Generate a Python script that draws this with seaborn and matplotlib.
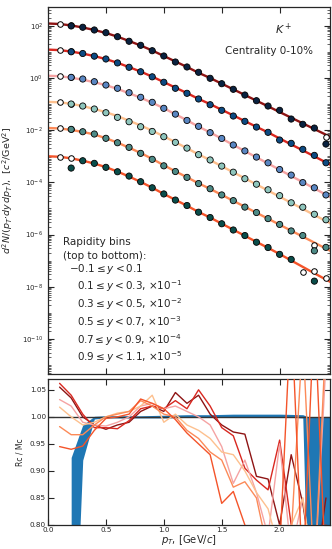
import numpy as np
import pandas as pd
import matplotlib
matplotlib.use("Agg")
import matplotlib.pyplot as plt
import seaborn as sns
from matplotlib.ticker import LogLocator, NullFormatter, FixedLocator, LogFormatterSciNotation, MultipleLocator

nan = np.nan
# ---------------- data ----------------
pt_grid = [0.0, 0.1, 0.2, 0.3, 0.4, 0.5, 0.6, 0.7, 0.8, 0.9, 1.0, 1.1, 1.2,
           1.3, 1.4, 1.5, 1.6, 1.7, 1.8, 1.9, 2.0, 2.1, 2.2, 2.3, 2.4, 2.5]
pt = [0.1, 0.2, 0.3, 0.4, 0.5, 0.6, 0.7, 0.8, 0.9, 1.0, 1.1, 1.2,
      1.3, 1.4, 1.5, 1.6, 1.7, 1.8, 1.9, 2.0, 2.1, 2.2, 2.3, 2.4]
scales = [1.0, 1e-1, 1e-2, 1e-3, 1e-4, 1e-5]
bin_labels = [r"$-0.1 \leq y < 0.1$",
              r"$0.1 \leq y < 0.3$, $\times10^{-1}$",
              r"$0.3 \leq y < 0.5$, $\times10^{-2}$",
              r"$0.5 \leq y < 0.7$, $\times10^{-3}$",
              r"$0.7 \leq y < 0.9$, $\times10^{-4}$",
              r"$0.9 \leq y < 1.1$, $\times10^{-5}$"]

# fit curves (unscaled)
fit1 = [121, 116, 102, 85.3, 68.4, 52.5, 37.9, 25.9, 17.4, 11.2, 6.90, 4.25, 2.62, 1.57, 0.991, 0.600, 0.366, 0.221, 0.134, 0.0817, 0.0493, 0.0299, 0.0182, 0.0110, 0.00667, 0.00406]
fit2 = [121, 116, 102, 85.3, 68.4, 52.5, 37.9, 25.9, 17.4, 11.2, 6.90, 4.25, 2.62, 1.57, 0.991, 0.600, 0.366, 0.221, 0.134, 0.0817, 0.0480, 0.0283, 0.0168, 0.00990, 0.00580, 0.00340]
fit3 = [121, 116, 102, 85.3, 68.4, 52.5, 37.9, 25.9, 17.4, 11.2, 6.90, 4.05, 2.38, 1.36, 0.816, 0.471, 0.273, 0.157, 0.0909, 0.0528, 0.0303, 0.0175, 0.0102, 0.00585, 0.00338, 0.00196]
fit4 = [121, 116, 102, 83.1, 64.8, 48.5, 34.4, 22.9, 15.1, 9.55, 5.78, 3.44, 2.03, 1.17, 0.715, 0.414, 0.244, 0.142, 0.0832, 0.0485, 0.0283, 0.0165, 0.00965, 0.00562, 0.00330, 0.00192]
fit5 = [121, 116, 102, 85.3, 68.4, 48.9, 33.2, 21.3, 13.3, 7.94, 4.52, 2.64, 1.57, 0.917, 0.563, 0.332, 0.197, 0.116, 0.0685, 0.0407, 0.0239, 0.0141, 0.00837, 0.00493, 0.00291, 0.00173]
fit6 = [99.6, 95.5, 83.2, 67.8, 52.5, 38.2, 25.9, 16.7, 10.4, 6.25, 3.59, 2.14, 1.27, 0.735, 0.448, 0.262, 0.154, 0.0897, 0.0525, 0.0310, 0.0180, 0.0102, 0.00580, 0.00330, 0.00190, 0.00110]

# measured points, filled markers (unscaled)
meas1 = [nan, 97.5, 86.9, 68.4, 53.9, 37.9, 25.3, 17.7, 11.0, 6.90, 4.06, 2.62, 1.64, 0.966, 0.600, 0.366, 0.221, 0.134, 0.0838, 0.0574, 0.0266, 0.0167, 0.0120, 0.00293]
meas2 = [nan, 100, 86.0, 68.0, 53.0, 37.5, 25.5, 17.2, 11.0, 6.80, 4.00, 2.57, 1.56, 0.940, 0.574, 0.347, 0.217, 0.131, 0.0824, 0.0418, 0.0312, 0.0184, 0.0108, 0.00563]
meas3 = [nan, 105, 90.7, 71.5, 53.4, 40.0, 27.1, 18.1, 11.6, 6.84, 4.10, 2.35, 1.40, 0.800, 0.480, 0.270, 0.160, 0.0930, 0.0560, 0.0310, 0.0190, 0.00980, 0.00620, 0.00330]
meas4 = [nan, 100, 83.8, 64.3, 46.4, 30.9, 21.0, 13.5, 8.90, 5.60, 3.40, 2.05, 1.15, 0.720, 0.420, 0.245, 0.138, 0.0850, 0.0520, 0.0310, 0.0165, 0.0112, 0.00600, 0.00370]
meas5 = [nan, 107, 86.9, 71.0, 48.6, 32.9, 21.9, 12.9, 7.60, 4.30, 2.60, 1.55, 0.900, 0.570, 0.330, 0.200, 0.113, 0.0700, 0.0410, 0.0245, 0.0138, 0.00920, 0.00239, 0.00324]
meas6 = [nan, 35.3, 67.3, 53.5, 37.6, 25.5, 17.4, 10.6, 6.20, 3.60, 2.10, 1.30, 0.720, 0.450, 0.260, 0.150, 0.0920, 0.0510, 0.0320, 0.0175, 0.0112, nan, 0.00165, nan]

# alternative points, open markers (unscaled)
open_pt1, open_val1 = [0.1, 0.2, 2.4], [116, 102, 0.00544]
open_pt2, open_val2 = [0.1, 0.2], [117, 103]
open_pt3, open_val3 = [0.1, 0.2], [118, 104]
open_pt4, open_val4 = [0.1, 0.2], [116, 101]
open_pt5, open_val5 = [0.1, 0.2, 2.3], [117, 108, 0.00396]
open_pt6, open_val6 = [0.1, 0.2, 2.2, 2.3, 2.4], [95.7, 83.2, 0.00366, 0.0040, 0.00215]

# ratio panel
ratio1 = [1.055, 1.035, 1.000, 0.985, 0.977, 0.985, 0.990, 1.010, 1.020, 1.010, 1.045, 1.025, 1.040, 1.005, 0.985, 0.972, 0.968, 0.890, 0.885, 0.800, 0.930, 0.840, 0.700, 0.850]
ratio2 = [1.062, 1.040, 1.005, 0.980, 0.980, 0.978, 0.993, 1.015, 1.020, 1.015, 1.030, 1.015, 1.050, 1.020, 0.980, 0.965, 0.905, 0.883, 0.865, 0.957, 0.800, 0.700, 0.750, 0.800]
ratio3 = [1.032, 1.020, 0.990, 0.985, 0.983, 0.990, 1.000, 1.020, 1.025, 1.015, 1.020, 1.010, 1.000, 0.985, 0.945, 0.877, 0.920, 0.860, 0.780, 0.950, 0.750, 0.850, 0.700, 1.100]
ratio4 = [1.018, 1.000, 0.985, 0.990, 1.000, 1.007, 1.010, 1.020, 1.040, 0.990, 1.005, 0.985, 0.975, 0.960, 0.935, 0.930, 0.900, 0.860, 0.830, 0.750, 0.800, 0.850, 0.700, 0.650]
ratio5 = [0.982, 0.967, 0.967, 0.985, 1.000, 1.005, 1.010, 1.030, 1.020, 1.005, 1.000, 0.975, 0.960, 0.935, 0.920, 0.870, 0.880, 0.850, 0.750, 0.800, 0.780, 1.150, 0.700, 1.150]
ratio6 = [0.945, 0.940, 0.946, 0.975, 0.997, 1.000, 1.005, 1.033, 1.025, 1.015, 0.995, 0.970, 0.950, 0.930, 0.840, 0.862, 0.800, 0.750, 0.700, 0.750, 1.200, 0.700, 1.200, 0.700]

band_pt = [0.2, 0.3, 0.4, 0.5, 0.6, 0.8, 1.0, 1.2, 1.4, 1.6, 1.8, 2.0, 2.2, 2.25, 2.3, 2.4, 2.45]
band_lo = [0.40, 0.92, 0.996, 0.998, 0.998, 0.998, 0.998, 0.999, 0.999, 1.000, 1.000, 1.000, 0.998, 0.60, 0.50, 0.40, 0.40]
band_hi = [0.925, 0.985, 1.001, 1.002, 1.002, 1.002, 1.003, 1.004, 1.004, 1.005, 1.005, 1.005, 1.004, 1.000, 1.000, 1.000, 1.000]

# ---------------- style ----------------
line_colors = ["#8e1414", "#d92820", "#f5a3a3", "#fdc08e", "#fc8a58", "#f4542a"]
face_colors = ["#0a2240", "#0d4a82", "#5a86c2", "#8fc6bd", "#4d8a86", "#0a4d4a"]

sns.set_style("ticks")
plt.rcParams.update({
    "font.family": ["DejaVu Sans"],
    "xtick.direction": "in", "ytick.direction": "in",
    "xtick.top": True, "ytick.right": True,
    "axes.linewidth": 0.9,
})

fig = plt.figure(figsize=(3.32, 5.49), dpi=100)
ax1 = fig.add_axes([0.14458, 0.3188, 0.8494, 0.6685])
ax2 = fig.add_axes([0.14458, 0.04372, 0.8494, 0.26593])

fits = [fit1, fit2, fit3, fit4, fit5, fit6]
meas = [meas1, meas2, meas3, meas4, meas5, meas6]
opens = [(open_pt1, open_val1), (open_pt2, open_val2), (open_pt3, open_val3),
         (open_pt4, open_val4), (open_pt5, open_val5), (open_pt6, open_val6)]
ratios = [ratio1, ratio2, ratio3, ratio4, ratio5, ratio6]

fit_df = pd.concat([pd.DataFrame({"pt": pt_grid, "v": np.array(f) * s, "bin": i})
                    for i, (f, s) in enumerate(zip(fits, scales))])
sns.lineplot(data=fit_df, x="pt", y="v", hue="bin", palette=line_colors,
             estimator=None, lw=1.7, legend=False, ax=ax1, zorder=2)

for i in range(6):
    s = scales[i]
    opt, oval = opens[i]
    ov = np.array(oval) * s
    ax1.errorbar(opt, ov, yerr=0.12 * ov, fmt="o", ms=4.0, mfc="white", mec="black",
                 mew=0.7, ecolor="black", elinewidth=0.7, capsize=0, zorder=3)

meas_df = pd.concat([pd.DataFrame({"pt": pt, "v": np.array(m) * s, "bin": i})
                     for i, (m, s) in enumerate(zip(meas, scales))]).dropna()
sns.scatterplot(data=meas_df, x="pt", y="v", hue="bin", palette=face_colors,
                s=20, edgecolor="black", linewidth=0.6, legend=False, ax=ax1, zorder=4)

ax1.set_yscale("log")
ax1.set_xlim(0, 2.435)
ax1.set_ylim(4.6e-12, 5.2e2)
ax1.yaxis.set_major_locator(FixedLocator([10.0 ** k for k in range(-10, 3, 2)]))
ax1.yaxis.set_major_formatter(LogFormatterSciNotation())
ax1.yaxis.set_minor_locator(LogLocator(base=10, subs=np.arange(1, 10), numticks=100))
ax1.yaxis.set_minor_formatter(NullFormatter())
ax1.xaxis.set_major_locator(MultipleLocator(0.5))
ax1.tick_params(axis="x", labelbottom=False)
ax1.tick_params(which="major", length=4, width=0.8, labelsize=5)
ax1.tick_params(which="minor", length=2, width=0.5)
ax1.set_xlabel("")
ax1.set_ylabel(r"$d^2N/(p_T{\cdot}dy\,dp_T)$,  $[c^2/\mathrm{GeV}^2]$", fontsize=6.8, labelpad=5)

ax1.text(0.837, 0.940, r"$K^+$", transform=ax1.transAxes, fontsize=8, ha="center", va="center")
ax1.text(0.783, 0.881, "Centrality 0-10%", transform=ax1.transAxes, fontsize=7.5, ha="center", va="center")

def fy(ypx):
    return 1 - (ypx - 7) / 367.0

def fx(xpx):
    return (xpx - 48) / 282.0

ax1.text(fx(63), fy(242.3), "Rapidity bins", transform=ax1.transAxes, fontsize=7.5, va="center")
ax1.text(fx(63), fy(255.7), "(top to bottom):", transform=ax1.transAxes, fontsize=7.5, va="center")
text_x = [69, 77, 77, 77, 77, 77]
text_y = [268.7, 286, 304, 321.7, 340.5, 357.5]
for lab, xx, yy in zip(bin_labels, text_x, text_y):
    ax1.text(fx(xx), fy(yy), lab, transform=ax1.transAxes, fontsize=7.5, va="center")

# ---- ratio panel ----
ax2.fill_between(band_pt, band_lo, band_hi, color="#1f77b4", lw=0, zorder=1)
ax2.axhline(1.0, color="#333333", lw=1.0, zorder=2)
ratio_df = pd.concat([pd.DataFrame({"pt": pt, "r": r, "bin": i}) for i, r in enumerate(ratios)])
sns.lineplot(data=ratio_df, x="pt", y="r", hue="bin", palette=line_colors,
             estimator=None, lw=1.0, legend=False, ax=ax2, zorder=3)
ax2.set_xlim(0, 2.435)
ax2.set_ylim(0.8, 1.07)
ax2.xaxis.set_major_locator(MultipleLocator(0.5))
ax2.yaxis.set_major_locator(MultipleLocator(0.05))
ax2.tick_params(which="major", length=4, width=0.8, labelsize=5.2, pad=1.5)
ax2.set_xlabel(r"$p_T$, [GeV/$c$]", fontsize=7.2, labelpad=0)
ax2.set_ylabel("Rc / Mc", fontsize=5.5, labelpad=4)

fig.savefig("out.png", dpi=100)
